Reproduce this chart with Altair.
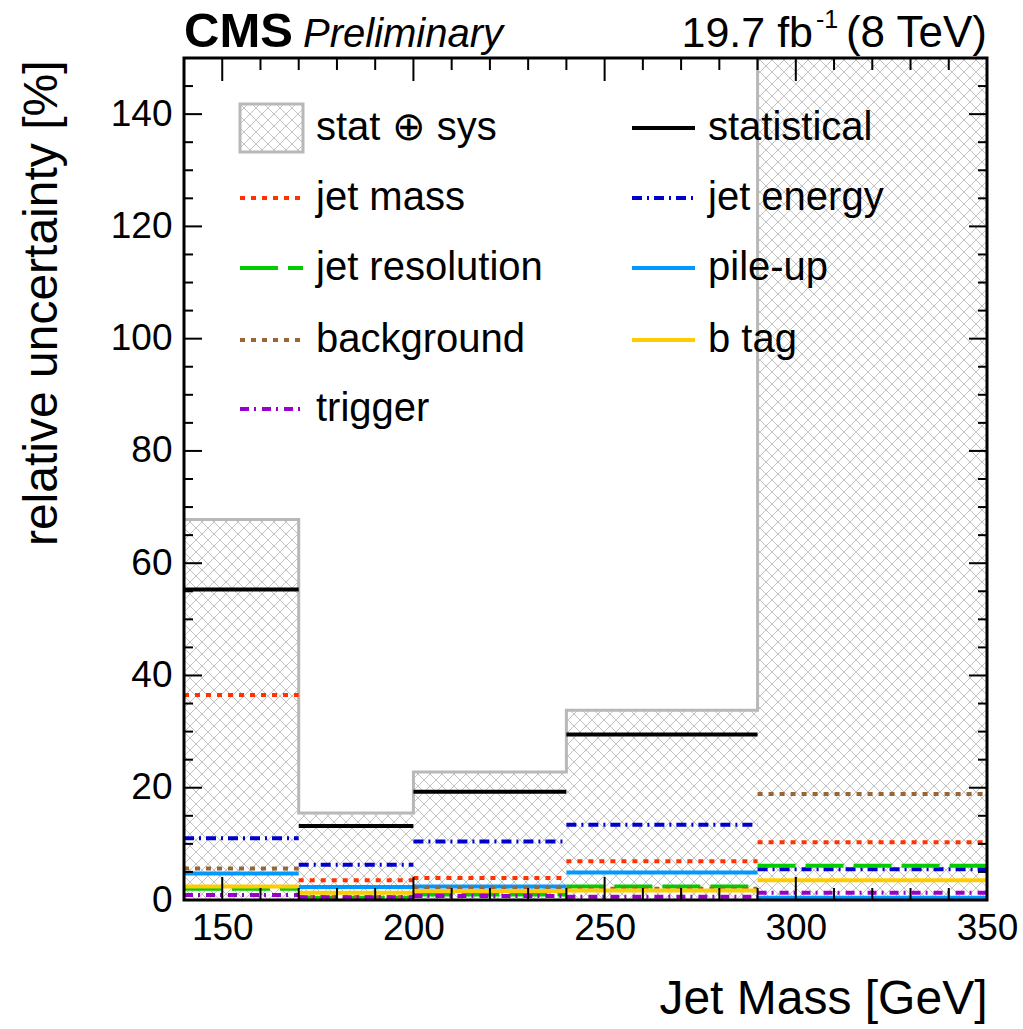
import altair as alt
import pandas as pd

# ---------------- data ----------------
bin_lo = [140, 170, 200, 240, 290]
bin_hi = [170, 200, 240, 290, 350]
total = [67.8, 15.5, 22.8, 33.8, 170.0]   # stat (+) sys

series_names = ["statistical", "jet mass", "jet energy", "jet resolution",
                "pile-up", "background", "b tag", "trigger"]
statistical = [55.3, 13.2, 19.3, 29.5, 165.0]
jet_mass = [36.5, 3.5, 3.9, 6.9, 10.3]
jet_energy = [11.0, 6.3, 10.4, 13.4, 5.5]
jet_resolution = [2.0, 0.4, 1.0, 2.4, 6.1]
pile_up = [4.7, 2.3, 2.4, 4.9, 0.4]
background = [5.6, 0.5, 2.1, 2.0, 18.9]
b_tag = [2.4, 1.3, 1.6, 1.7, 3.5]
trigger = [0.9, 0.5, 0.7, 0.6, 1.3]
series_values = [statistical, jet_mass, jet_energy, jet_resolution,
                 pile_up, background, b_tag, trigger]

series_colors = ["#000000", "#ff3300", "#0000cc", "#00cc00",
                 "#0099ff", "#996633", "#ffcc00", "#9900cc"]
series_dashes = [[1, 0], [5, 6], [10, 5, 2, 5], [38, 10],
                 [1, 0], [5, 6], [1, 0], [9, 5, 2, 6]]

x_major = [150, 200, 250, 300, 350]
x_minor = [160, 170, 180, 190, 210, 220, 230, 240, 260, 270, 280, 290,
           310, 320, 330, 340]
y_major = [0, 20, 40, 60, 80, 100, 120, 140]
y_minor = [5, 10, 15, 25, 30, 35, 45, 50, 55, 65, 70, 75, 85, 90, 95,
           105, 110, 115, 125, 130, 135, 145]

# ---------------- layout ----------------
W, H = 803, 842
XMIN, XMAX, YMAX = 140, 350, 150
SX = W / (XMAX - XMIN)
SY = H / YMAX
HATCH = 12
FONT = "Liberation Sans"

hist_df = pd.DataFrame({"lo": bin_lo, "hi": bin_hi, "total": total})
step_df = pd.DataFrame({"x": bin_lo + [bin_hi[-1]], "y": total + [total[-1]]})
rows = []
for name, vals in zip(series_names, series_values):
    for lo, hi, v in zip(bin_lo, bin_hi, vals):
        rows.append({"series": name, "lo": lo, "hi": hi, "v": v})
comp_df = pd.DataFrame(rows)

xscale = alt.Scale(domain=[XMIN, XMAX], nice=False, zero=False)
yscale = alt.Scale(domain=[0, YMAX], nice=False, zero=False)
xaxis = alt.Axis(values=x_major, ticks=False, domain=False, grid=False,
                 labelFontSize=37, labelPadding=10, labelFont=FONT,
                 labelColor="black", title="Jet Mass [GeV]", titleFont=FONT,
                 titleFontSize=48, titleFontWeight="normal", titleColor="black",
                 titleX=W, titleY=113, titleAlign="right",
                 titleBaseline="alphabetic", format="d", labelFlush=False)
yaxis = alt.Axis(values=y_major, ticks=False, domain=False, grid=False,
                 labelFontSize=37, labelPadding=12, labelFont=FONT,
                 labelColor="black", title="relative uncertainty [%]",
                 titleFont=FONT, titleFontSize=48, titleFontWeight="normal",
                 titleColor="black", titleX=-128, titleY=2, titleAngle=-90,
                 titleAlign="right", titleBaseline="alphabetic", format="d",
                 labelFlush=False)


def hatch_layer(df):
    """Cross-hatch (screen-aligned 45 degree lines) inside rectangles given
    in data units by lo, hi, ybot, ytop."""
    return alt.Chart(df).transform_calculate(
        a=f"(datum.lo - {XMIN}) * {SX}",
        b=f"(datum.hi - {XMIN}) * {SX}",
        p0=f"datum.ybot * {SY}",
        p1=f"min(datum.ytop, {YMAX}) * {SY}",
        k="sequence(-80, 150)",
        fam="[0, 1]",
    ).transform_flatten(["k"]).transform_flatten(["fam"]).transform_calculate(
        c=f"datum.k * {HATCH}",
    ).transform_calculate(
        ps="datum.fam == 0 ? max(datum.a, datum.c + datum.p0) : max(datum.a, datum.c - datum.p1)",
        pe="datum.fam == 0 ? min(datum.b, datum.c + datum.p1) : min(datum.b, datum.c - datum.p0)",
    ).transform_filter("datum.ps < datum.pe").transform_calculate(
        hx=f"{XMIN} + datum.ps / {SX}",
        hx2=f"{XMIN} + datum.pe / {SX}",
        hy=f"(datum.fam == 0 ? datum.ps - datum.c : datum.c - datum.ps) / {SY}",
        hy2=f"(datum.fam == 0 ? datum.pe - datum.c : datum.c - datum.pe) / {SY}",
    ).mark_rule(stroke="#c2c2c2", strokeWidth=1, clip=True).encode(
        x=alt.X("hx:Q", scale=xscale, axis=xaxis),
        x2="hx2:Q",
        y=alt.Y("hy:Q", scale=yscale, axis=yaxis),
        y2="hy2:Q",
    )


hist = alt.Chart(hist_df).mark_rect(fill="white", clip=True).encode(
    x=alt.X("lo:Q", scale=xscale, axis=xaxis),
    x2="hi:Q",
    y=alt.Y("total:Q", scale=yscale, axis=yaxis),
    y2=alt.datum(0),
)

hist_hatch = hatch_layer(hist_df.assign(ybot=0.0, ytop=hist_df["total"]))

outline = alt.Chart(step_df).mark_line(
    interpolate="step-after", color="#b8b8b8", strokeWidth=3, clip=True
).encode(
    x=alt.X("x:Q", scale=xscale, axis=xaxis),
    y=alt.Y("y:Q", scale=yscale, axis=yaxis),
)

comps = alt.Chart(comp_df).transform_calculate(
    idx="indexof(%s, datum.series)" % str(series_names)
).mark_rule(strokeWidth=4, clip=True).encode(
    x=alt.X("lo:Q", scale=xscale, axis=xaxis),
    x2="hi:Q",
    y=alt.Y("v:Q", scale=yscale, axis=yaxis),
    color=alt.Color("series:N", scale=alt.Scale(domain=series_names,
                                                range=series_colors),
                    legend=None),
    strokeDash=alt.StrokeDash("series:N",
                              scale=alt.Scale(domain=series_names,
                                              range=series_dashes),
                              legend=None),
    order=alt.Order("idx:Q"),
)


# ---------------- ticks (inside, on all four sides) ----------------
def yticks(vals, length):
    df = pd.DataFrame({"v": vals})
    left = alt.Chart(df).mark_rule(color="black", strokeWidth=2).encode(
        y=alt.Y("v:Q", scale=yscale, axis=yaxis),
        x=alt.value(0), x2=alt.value(length))
    right = alt.Chart(df).mark_rule(color="black", strokeWidth=2).encode(
        y=alt.Y("v:Q", scale=yscale, axis=yaxis),
        x=alt.value(W - length), x2=alt.value(W))
    return [left, right]


def xticks(vals, length):
    df = pd.DataFrame({"v": vals})
    bottom = alt.Chart(df).mark_rule(color="black", strokeWidth=2).encode(
        x=alt.X("v:Q", scale=xscale, axis=xaxis),
        y=alt.value(H - length), y2=alt.value(H))
    top = alt.Chart(df).mark_rule(color="black", strokeWidth=2).encode(
        x=alt.X("v:Q", scale=xscale, axis=xaxis),
        y=alt.value(0), y2=alt.value(length))
    return [bottom, top]


tick_layers = (yticks(y_major, 18) + yticks(y_minor, 9)
               + xticks(x_major, 23) + xticks(x_minor, 12))

one = pd.DataFrame({"a": [0]})
frame = alt.Chart(one).mark_rect(filled=False, stroke="black",
                                 strokeWidth=3).encode(
    x=alt.value(0), x2=alt.value(W), y=alt.value(0), y2=alt.value(H))

# ---------------- legend ----------------
BOX = (56, 119, 46, 94)   # legend swatch in pixels: x0, x1, y0, y1
legend_layers = []
row_y = [70, 140, 210, 282, 351]
col_sym = [(56, 119, 132), (448, 511, 524)]
legend_layers.append(
    alt.Chart(one).mark_rect(fill="white").encode(
        x=alt.value(BOX[0]), x2=alt.value(BOX[1]),
        y=alt.value(BOX[2]), y2=alt.value(BOX[3])))
box_df = pd.DataFrame({
    "lo": [XMIN + BOX[0] / SX], "hi": [XMIN + BOX[1] / SX],
    "ybot": [YMAX - BOX[3] / SY], "ytop": [YMAX - BOX[2] / SY]})
legend_layers.append(hatch_layer(box_df))
legend_layers.append(
    alt.Chart(one).mark_rect(filled=False, stroke="#b8b8b8",
                             strokeWidth=3).encode(
        x=alt.value(BOX[0]), x2=alt.value(BOX[1]),
        y=alt.value(BOX[2]), y2=alt.value(BOX[3])))
legend_layers.append(
    alt.Chart(pd.DataFrame({"label": ["stat \u2295 sys"]})).mark_text(
        font=FONT, fontSize=40, align="left", baseline="middle",
        color="black").encode(
        x=alt.value(132), y=alt.value(70), text="label:N"))
entries = ["stat"] + series_names
for i, name in enumerate(entries):
    if i == 0:
        continue
    row, col = divmod(i, 2)
    x0, x1, xt = col_sym[col]
    yc = row_y[row]
    k = series_names.index(name)
    ldf = pd.DataFrame({"label": [name]})
    legend_layers.append(
        alt.Chart(ldf).mark_rule(color=series_colors[k], strokeWidth=4,
                                 strokeDash=series_dashes[k]).encode(
            x=alt.value(x0), x2=alt.value(x1), y=alt.value(yc)))
    legend_layers.append(
        alt.Chart(ldf).mark_text(font=FONT, fontSize=40, align="left",
                                 baseline="middle", color="black").encode(
            x=alt.value(xt), y=alt.value(yc), text="label:N"))


# ---------------- header texts ----------------
def htext(t, x, y, size, align="left", weight="normal", style="normal"):
    return alt.Chart(pd.DataFrame({"t": [t]})).mark_text(
        font=FONT, fontSize=size, fontWeight=weight, fontStyle=style,
        align=align, baseline="alphabetic", color="black").encode(
        x=alt.value(x), y=alt.value(y), text="t:N")


hdr = [
    htext("CMS", 0, -11, 49, weight="bold"),
    htext("Preliminary", 119, -11, 40, style="italic"),
    htext("(8 TeV)", W, -11, 44, align="right"),
    htext("-1", 632, -30, 25),
    htext("19.7 fb", 629, -11, 43, align="right"),
]

chart = alt.layer(
    hist, hist_hatch, outline, comps, *tick_layers, frame, *legend_layers, *hdr
).properties(
    width=W, height=H,
    autosize=alt.AutoSizeParams(type="none"),
    padding={"left": 184, "top": 58, "right": 36, "bottom": 129},
).configure_view(stroke=None).configure(background="white")

chart.save("out.html", embed_options={"renderer": "svg", "actions": False})
